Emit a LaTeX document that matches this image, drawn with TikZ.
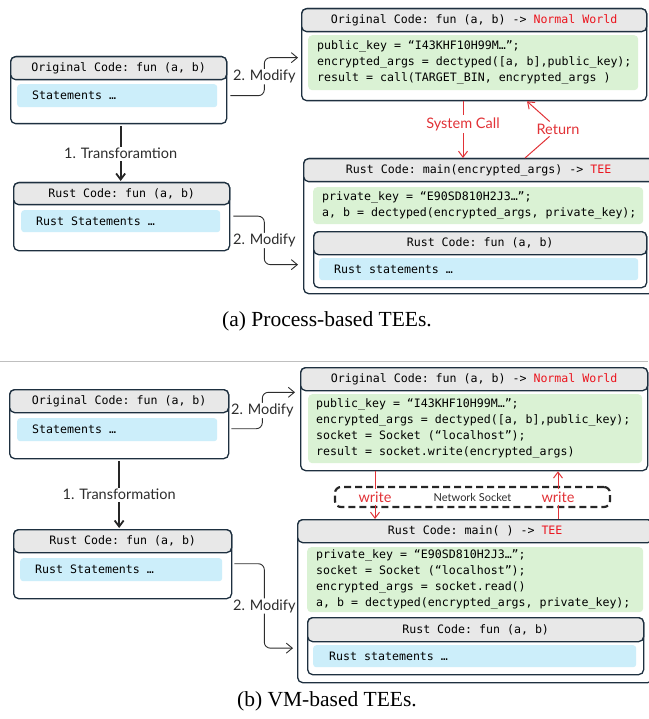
\documentclass[tikz,border=0pt]{standalone}
\usepackage{fontspec}
\setmainfont{Liberation Serif}
\setsansfont{Lato}
\setmonofont{DejaVu Sans Mono}[WordSpace={1,0,0}]
\usetikzlibrary{positioning,calc,arrows.meta}
\definecolor{boxline}{RGB}{30,48,64}
\definecolor{headgray}{RGB}{232,232,232}
\definecolor{stmtblue}{RGB}{204,238,250}
\definecolor{codegreen}{RGB}{218,242,212}
\definecolor{teered}{RGB}{235,20,30}
\definecolor{arrowred}{RGB}{225,50,55}
\definecolor{labelgray}{RGB}{45,45,45}

\begin{document}
\begin{tikzpicture}[
					x=1pt, y=-1pt,
					codebox/.style={draw=boxline, line width=1.3pt, rounded corners=5pt, fill=white, anchor=north west, inner sep=0pt},
					headbox/.style={draw=boxline, line width=1.3pt, rounded corners=5pt, fill=headgray, anchor=north west, inner sep=0pt, font=\ttfamily\fontsize{11.6}{14}\selectfont},
					stmtbar/.style={fill=stmtblue, rounded corners=3pt, anchor=north west, inner xsep=15pt, inner ysep=0pt, align=flush left, font=\ttfamily\fontsize{11.6}{16}\selectfont},
					greenbar/.style={fill=codegreen, rounded corners=4pt, anchor=north west, inner xsep=9pt, inner ysep=0pt, align=flush left, font=\ttfamily\fontsize{11.6}{16}\selectfont}
					]
					\tikzset{
						modarrow/.style={draw=labelgray, line width=0.9pt, rounded corners=6pt, -{Straight Barb[length=6pt, width=10pt]}},
						modlabel/.style={fill=white, inner sep=1pt, text=labelgray, font=\sffamily\fontsize{14.5}{16}\selectfont},
						transarrow/.style={draw=black!85, line width=1.8pt, -{Straight Barb[length=6pt, width=9pt]}},
						translabel/.style={fill=white, inner sep=1.5pt, text=labelgray, font=\sffamily\fontsize{14.5}{16}\selectfont},
						redlabel/.style={inner sep=2pt, text=arrowred, font=\sffamily\fontsize{14.5}{16}\selectfont},
						redline/.style={draw=arrowred, line width=1pt},
						redarrow/.style={redline, -{Straight Barb[length=6pt, width=9pt]}},
						sockbox/.style={draw=black!85, line width=2.2pt, dash pattern=on 7pt off 4pt, rounded corners=6pt, minimum width=275pt, minimum height=20pt, inner sep=0pt, text=labelgray, font=\sffamily\fontsize{11}{12}\selectfont},
						caption/.style={inner sep=0pt, font=\fontsize{21.5}{24}\selectfont},
						sepline/.style={draw=black!25, line width=1pt}
					}
					\useasboundingbox (0,0) rectangle (648,719);
					
					% (a) process-based
					\node[codebox, minimum width=216pt, minimum height=67pt] (orig) at (10,56) {};
					\node[headbox, minimum width=216pt, minimum height=23pt] (orighead) at (orig.north west) {Original Code: fun (a, b)};
					\node[stmtbar, minimum width=200pt, minimum height=23pt, text width=170pt] (origbar) at (17,84) {Statements …};
					
					\node[codebox, minimum width=216pt, minimum height=68pt] (rust) at (13,182) {};
					\node[headbox, minimum width=216pt, minimum height=22pt] (rusthead) at (rust.north west) {Rust Code: fun (a, b)};
					\node[stmtbar, minimum width=199pt, minimum height=22pt, text width=169pt] (rustbar) at (21,210) {Rust Statements …};
					
					\node[codebox, minimum width=345pt, minimum height=92pt] (normal) at (301,8) {};
					\node[headbox, minimum width=345pt, minimum height=23pt] (normalhead) at (normal.north west) {Original Code: fun (a, b) -> \textcolor{teered}{Normal World}};
					\node[greenbar, minimum width=330pt, minimum height=55pt, text width=312pt] (normalcode) at (308,35) {public\_key = “I43KHF10H99M…”;\\\mbox{encrypted\_args = dectyped([a, b],public\_key);}\\\mbox{result = call(TARGET\_BIN, encrypted\_args )}};
					
					\node[codebox, minimum width=350pt, minimum height=135pt] (tee) at (303,158) {};
					\node[headbox, minimum width=350pt, minimum height=23pt] (teehead) at (tee.north west) {Rust Code: main(encrypted\_args) -> \textcolor{teered}{TEE}};
					\node[greenbar, minimum width=330pt, minimum height=37pt, text width=312pt] (teecode) at (313,187) {private\_key = “E90SD810H2J3…”;\\\mbox{a, b = dectyped(encrypted\_args, private\_key);}};
					\node[codebox, minimum width=333pt, minimum height=56pt] (inner) at (313,231) {};
					\node[headbox, minimum width=333pt, minimum height=23pt] (innerhead) at (inner.north west) {Rust Code: fun (a, b)};
					\node[stmtbar, minimum width=319pt, minimum height=22pt, text width=289pt] (innerbar) at (319,258) {Rust statements …};
					
					\draw[transarrow] ($(orig.south)+(2,2)$) -- ($(orig.south |- rust.north)+(2,-1)$) node[midway, translabel] {1. Transforamtion};
					\draw[modarrow] ($(orig.east |- origbar.east)+(3,0)$) -- ++(34,0) |- ($(normal.west)+(-3,3)$) node[pos=0.25, modlabel] {2. Modify};
					\draw[modarrow] ($(rust.east |- rustbar.east)+(3,-5)$) -- ++(31,0) |- ($(tee.west |- inner.west)+(-5,5)$) node[pos=0.25, modlabel] {2. Modify};
					
					\node[redlabel] (syscall) at (463,124) {System Call};
					\node[redlabel] (ret) at (558,129) {Return};
					\draw[redline] ([xshift=162pt]normal.south west) -- (syscall);
					\draw[redarrow] (syscall) -- ([xshift=160pt]tee.north west);
					\draw[redline] ([xshift=222pt]tee.north west) -- (ret);
					\draw[redarrow] (ret) -- ([xshift=226pt]normal.south west);
					
					\node[caption] (capa) at (327,321) {(a) Process-based TEEs.};
					\draw[sepline] (0,361) -- (648,361);
					
					% (b) vm-based
					\node[codebox, minimum width=219pt, minimum height=69pt] (origb) at (9,389) {};
					\node[headbox, minimum width=219pt, minimum height=23pt] (origbhead) at (origb.north west) {Original Code: fun (a, b)};
					\node[stmtbar, minimum width=200pt, minimum height=23pt, text width=170pt] (origbbar) at (17,418) {Statements …};
					
					\node[codebox, minimum width=218pt, minimum height=69pt] (rustb) at (13,529) {};
					\node[headbox, minimum width=218pt, minimum height=23pt] (rustbhead) at (rustb.north west) {Rust Code: fun (a, b)};
					\node[stmtbar, minimum width=202pt, minimum height=23pt, text width=172pt] (rustbbar) at (20,558) {Rust Statements …};
					
					\node[codebox, minimum width=347pt, minimum height=103pt] (normalb) at (300,367) {};
					\node[headbox, minimum width=347pt, minimum height=23pt] (normalbhead) at (normalb.north west) {Original Code: fun (a, b) -> \textcolor{teered}{Normal World}};
					\node[greenbar, inner xsep=8pt, minimum width=334pt, minimum height=69pt, text width=318pt] (normalbcode) at (308,394) {public\_key = “I43KHF10H99M…”;\\\mbox{encrypted\_args = dectyped([a, b],public\_key);}\\socket = Socket (“localhost”);\\\mbox{result = socket.write(encrypted\_args)}};
					
					\node[sockbox] (sock) at (472.5,497) {Network Socket};
					
					\node[codebox, minimum width=355pt, minimum height=163pt] (teeb) at (297,519) {};
					\node[headbox, minimum width=355pt, minimum height=23pt] (teebhead) at (teeb.north west) {Rust Code: main( ) -> \textcolor{teered}{TEE}};
					\node[greenbar, minimum width=336pt, minimum height=65pt, text width=318pt] (teebcode) at (307,547) {private\_key = “E90SD810H2J3…”;\\socket = Socket (“localhost”);\\encrypted\_args = socket.read()\\\mbox{a, b = dectyped(encrypted\_args, private\_key);}};
					\node[codebox, minimum width=336pt, minimum height=57pt] (innerb) at (307,617) {};
					\node[headbox, minimum width=336pt, minimum height=24pt] (innerbhead) at (innerb.north west) {Rust Code: fun (a, b)};
					\node[stmtbar, inner xsep=16pt, minimum width=323pt, minimum height=22pt, text width=291pt] (innerbbar) at (313,645) {Rust statements …};
					
					\draw[transarrow] ($(origb.south)+(0,2)$) -- ($(origb.south |- rustb.north)+(0,-1)$) node[midway, translabel] {1. Transformation};
					\draw[modarrow] ($(origb.east |- origbbar.east)+(2,-1)$) -- ++(31,0) |- ($(normalb.west |- normalbhead.south)+(-5,1)$) node[pos=0.25, modlabel] {2. Modify};
					\draw[modarrow] ($(rustb.east |- rustbbar.east)+(2,-6)$) -- ++(30,0) |- ($(teeb.west |- innerb.west)+(-4,2)$) node[pos=0.25, modlabel] {2. Modify};
					
					\node[redlabel] (wleft) at (375,497) {write};
					\node[redlabel] (wright) at (558,497) {write};
					\draw[redline] ([xshift=75pt]normalb.south west) -- (wleft);
					\draw[redarrow] (wleft) -- ([xshift=78pt]teeb.north west);
					\draw[redline] ([xshift=261pt]teeb.north west) -- (wright);
					\draw[redarrow] (wright) -- ([xshift=258pt]normalb.south west);
					
					\node[caption] (capb) at (327,701) {(b) VM-based TEEs.};
				\end{tikzpicture}
\end{document}
